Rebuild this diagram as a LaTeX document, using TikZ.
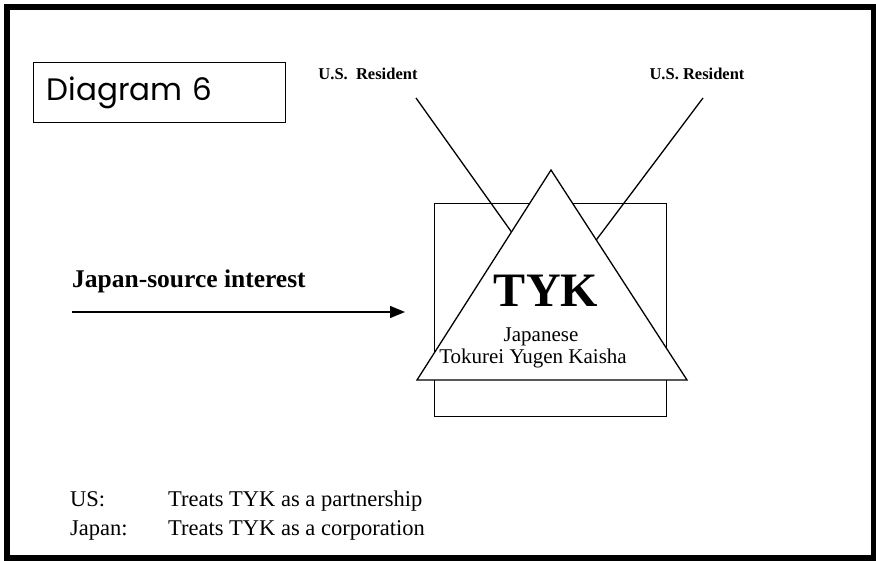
\documentclass[tikz,border=0pt]{standalone}
\usepackage{fontspec}
\setmainfont{Liberation Serif}
\newfontfamily\gothicfont{Poppins}
\usetikzlibrary{arrows.meta,calc}
\begin{document}
\begin{tikzpicture}[x=1pt,y=-1pt,
  frame/.style={line width=5.5pt},
  thin/.style={line width=1.3pt},
  resident/.style={font=\fontsize{16.5}{18}\selectfont\bfseries, inner sep=0pt},
  inside/.style={font=\fontsize{21}{22}\selectfont, inner sep=0pt, anchor=base},
  note/.style={font=\fontsize{22.5}{24}\selectfont, inner sep=0pt, anchor=base west},
  flow/.style={line width=1.4pt, -{Triangle[length=15pt,width=12pt]}}]
\useasboundingbox (0,0) rectangle (876,561);
% outer frame
\draw[frame] (7,7) rectangle (874,558);
% title box
\node[draw, thin, anchor=north west, minimum width=252pt, minimum height=60pt,
      text width=226pt, inner xsep=13pt, align=left,
      font=\gothicfont\fontsize{31}{34}\selectfont] (title) at (33,62) {Diagram 6};
% owners
\node[resident] (r1) at (368,74) {U.S.\ \ Resident};
\node[resident] (r2) at (697,74) {U.S. Resident};
% entity: square behind triangle
\node[draw, thin, anchor=north west, minimum width=232pt, minimum height=213pt] (box) at (434,203) {};
\coordinate (apex) at (551,170);
\coordinate (bl) at (417,380);
\coordinate (br) at (687,380);
\coordinate (o1) at (416,98);
\coordinate (o2) at (703,98);
\coordinate (h1) at ($(apex)!0.295!(bl)$);
\coordinate (h2) at ($(apex)!0.333!(br)$);
\draw[thin] (o1) -- (h1);
\draw[thin] (o2) -- (h2);
\draw[thin, fill=white] (apex) -- (bl) -- (br) -- cycle;
\node[font=\fontsize{48}{50}\selectfont\bfseries, inner sep=0pt, anchor=base] (tyk) at (546,307) {TYK};
\node[inside] (jp) at (541,342) {Japanese};
\node[inside] (tyk2) at (533,364) {Tokurei Yugen Kaisha};
% income flow
\node[font=\fontsize{25.5}{28}\selectfont\bfseries, inner sep=0pt, anchor=base west] (src) at (72,288) {Japan-source interest};
\coordinate (fs) at (72,312);
\coordinate (ft) at (405,312);
\draw[flow] (fs) -- (ft);
% classification notes
\node[note] (us) at (70,506) {US:};
\node[note] (ust) at (168,506) {Treats TYK as a partnership};
\node[note] (ja) at (70,535) {Japan:};
\node[note] (jat) at (168,535) {Treats TYK as a corporation};
\end{tikzpicture}
\end{document}
